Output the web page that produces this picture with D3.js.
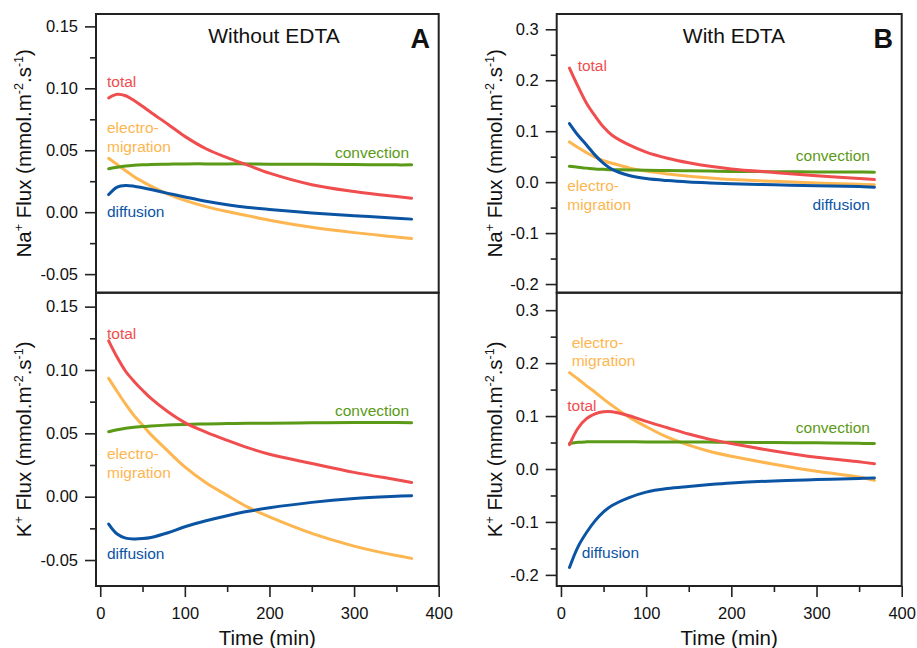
<!DOCTYPE html>
<html lang="en">
<head>
<meta charset="UTF-8">
<title>Na+ and K+ flux components</title>
<style>
  body { margin: 0; background: #fff; }
  svg { display: block; font-family: "Liberation Sans", Arial, sans-serif; }
  .tick text { font-size: 16.5px; fill: #111; }
  .tick line { stroke: #222; stroke-width: 1.6; }
</style>
</head>
<body>
<svg id="chart" width="917" height="648"></svg>
<script src="https://d3js.org/d3.v7.min.js"></script>
<script>
// time points (min)
const time = [10, 20, 30, 40, 50, 60, 80, 100, 125, 150, 175, 200, 250, 300, 350, 368];

// A (without EDTA), Na+
const naTotalA   = [0.0922, 0.0952, 0.0940, 0.0902, 0.0855, 0.0805, 0.0710, 0.0612, 0.0512, 0.0440, 0.0378, 0.0315, 0.0222, 0.0167, 0.0126, 0.0113];
const naElectroA = [0.0435, 0.0385, 0.0335, 0.0287, 0.0247, 0.0210, 0.0145, 0.0095, 0.0045, 0.0005, -0.0030, -0.0065, -0.0122, -0.0165, -0.0200, -0.0213];
const naConvA    = [0.0350, 0.0362, 0.0372, 0.0378, 0.0382, 0.0385, 0.0388, 0.0390, 0.0390, 0.0390, 0.0390, 0.0388, 0.0386, 0.0384, 0.0382, 0.0382];
const naDiffA    = [0.0142, 0.0203, 0.0216, 0.0210, 0.0197, 0.0183, 0.0152, 0.0123, 0.0088, 0.0060, 0.0038, 0.0022, -0.0006, -0.0028, -0.0048, -0.0056];

// A (without EDTA), K+
const kTotalA    = [0.1230, 0.1100, 0.0990, 0.0910, 0.0840, 0.0775, 0.0670, 0.0585, 0.0510, 0.0445, 0.0385, 0.0335, 0.0262, 0.0192, 0.0134, 0.0112];
const kElectroA  = [0.0934, 0.0830, 0.0730, 0.0640, 0.0565, 0.0490, 0.0360, 0.0235, 0.0110, 0.0010, -0.0085, -0.0160, -0.0290, -0.0390, -0.0465, -0.0487];
const kConvA     = [0.0513, 0.0528, 0.0540, 0.0548, 0.0553, 0.0558, 0.0565, 0.0570, 0.0574, 0.0577, 0.0579, 0.0580, 0.0583, 0.0586, 0.0586, 0.0584];
const kDiffA     = [-0.0216, -0.0295, -0.0327, -0.0334, -0.0331, -0.0322, -0.0285, -0.0237, -0.0190, -0.0150, -0.0115, -0.0088, -0.0045, -0.0015, 0.0003, 0.0008];

// B (with EDTA), Na+
const naTotalB   = [0.224, 0.188, 0.155, 0.130, 0.108, 0.092, 0.073, 0.059, 0.047, 0.038, 0.031, 0.026, 0.019, 0.0125, 0.0072, 0.005];
const naElectroB = [0.079, 0.068, 0.058, 0.049, 0.042, 0.037, 0.028, 0.0216, 0.016, 0.0118, 0.008, 0.005, 0.0015, -0.0015, -0.0042, -0.005];
const naConvB    = [0.031, 0.029, 0.0275, 0.026, 0.0252, 0.0245, 0.024, 0.0235, 0.0228, 0.0222, 0.0218, 0.021, 0.0205, 0.020, 0.0197, 0.0196];
const naDiffB    = [0.115, 0.092, 0.073, 0.053, 0.037, 0.025, 0.013, 0.007, 0.003, 0.0003, -0.0015, -0.003, -0.0052, -0.007, -0.0088, -0.0098];

// B (with EDTA), K+
const kTotalB    = [0.046, 0.077, 0.095, 0.104, 0.108, 0.108, 0.1005, 0.090, 0.078, 0.066, 0.056, 0.048, 0.034, 0.022, 0.0135, 0.010];
const kElectroB  = [0.182, 0.170, 0.157, 0.145, 0.132, 0.120, 0.098, 0.080, 0.060, 0.045, 0.033, 0.024, 0.009, -0.0044, -0.015, -0.0215];
const kConvB     = [0.048, 0.0505, 0.0513, 0.0515, 0.0515, 0.0515, 0.0513, 0.0512, 0.051, 0.051, 0.0508, 0.0506, 0.050, 0.0495, 0.0485, 0.048];
const kDiffB     = [-0.186, -0.147, -0.120, -0.098, -0.081, -0.069, -0.054, -0.0437, -0.037, -0.033, -0.0295, -0.0266, -0.0225, -0.020, -0.0178, -0.017];

// axis ticks
const xTicks = [0, 100, 200, 300, 400];
const xMinor = [50, 150, 250, 350];
const yTicksA = [-0.05, 0, 0.05, 0.10, 0.15];
const yMinorA = [-0.025, 0.025, 0.075, 0.125];
const yTicksB = [-0.2, -0.1, 0, 0.1, 0.2, 0.3];
const yMinorB = [-0.15, -0.05, 0.05, 0.15, 0.25];

const colors = { total: "#f04d4f", electro: "#fdb650", conv: "#5b9a16", diff: "#0b54a4" };

const svg = d3.select("#chart");

const panels = [
  { x0: 96, x1: 438.7, y0: 14, y1: 292.7, yDomain: [-0.065, 0.16], yTicks: yTicksA, yMinor: yMinorA, fmt: ".2f",
    ion: "Na", xAxis: false, titleX: 31,
    lines: { electro: naElectroA, conv: naConvA, diff: naDiffA, total: naTotalA },
    labels: [
      { k: "total", t: 8, v: 0.101, text: ["total"] },
      { k: "electro", t: 8, v: 0.0639, text: ["electro-", "migration"] },
      { k: "conv", t: 365, v: 0.0438, text: ["convection"], end: true },
      { k: "diff", t: 8, v: -0.0038, text: ["diffusion"] }
    ] },
  { x0: 96, x1: 438.7, y0: 292.7, y1: 586, yDomain: [-0.0705, 0.161], yTicks: yTicksA, yMinor: yMinorA, fmt: ".2f",
    ion: "K", xAxis: true, titleX: 31,
    lines: { electro: kElectroA, conv: kConvA, diff: kDiffA, total: kTotalA },
    labels: [
      { k: "total", t: 8, v: 0.1243, text: ["total"] },
      { k: "conv", t: 365, v: 0.0638, text: ["convection"], end: true },
      { k: "electro", t: 8, v: 0.0296, text: ["electro-", "migration"] },
      { k: "diff", t: 8, v: -0.0494, text: ["diffusion"] }
    ] },
  { x0: 556.7, x1: 901.7, y0: 14, y1: 292.7, yDomain: [-0.217, 0.33], yTicks: yTicksB, yMinor: yMinorB, fmt: ".1f",
    ion: "Na", xAxis: false, titleX: 501.7,
    lines: { electro: naElectroB, conv: naConvB, diff: naDiffB, total: naTotalB },
    labels: [
      { k: "total", t: 19.6, v: 0.219, text: ["total"] },
      { k: "conv", t: 362.7, v: 0.0412, text: ["convection"], end: true },
      { k: "electro", t: 7.4, v: -0.0176, text: ["electro-", "migration"] },
      { k: "diff", t: 362.7, v: -0.0549, text: ["diffusion"], end: true }
    ] },
  { x0: 556.7, x1: 901.7, y0: 292.7, y1: 586, yDomain: [-0.221, 0.333], yTicks: yTicksB, yMinor: yMinorB, fmt: ".1f",
    ion: "K", xAxis: true, titleX: 501.7,
    lines: { electro: kElectroB, conv: kConvB, diff: kDiffB, total: kTotalB },
    labels: [
      { k: "electro", t: 12.6, v: 0.2287, text: ["electro-", "migration"] },
      { k: "total", t: 7.4, v: 0.1089, text: ["total"] },
      { k: "conv", t: 362.7, v: 0.068, text: ["convection"], end: true },
      { k: "diff", t: 24.3, v: -0.168, text: ["diffusion"] }
    ] }
];

const headers = [
  { cx: 274, right: 430, title: "Without EDTA", letter: "A" },
  { cx: 734, right: 893, title: "With EDTA", letter: "B" }
];

panels.forEach(p => {
  const x = d3.scaleLinear().domain([-5, 400]).range([p.x0, p.x1]);
  const y = d3.scaleLinear().domain(p.yDomain).range([p.y1, p.y0]);
  const f = d3.format(p.fmt);
  const fmt = d => f(d).replace("−", "-");

  // y axis, major + minor ticks
  const ya = svg.append("g").attr("transform", `translate(${p.x0},0)`)
    .call(d3.axisLeft(y).tickValues(p.yTicks).tickFormat(fmt).tickSize(11).tickPadding(7));
  ya.select(".domain").remove();
  const ym = svg.append("g").attr("transform", `translate(${p.x0},0)`)
    .call(d3.axisLeft(y).tickValues(p.yMinor).tickFormat("").tickSize(6));
  ym.select(".domain").remove();
  ym.selectAll("text").remove();

  if (p.xAxis) {
    const xa = svg.append("g").attr("transform", `translate(0,${p.y1})`)
      .call(d3.axisBottom(x).tickValues(xTicks).tickFormat(d3.format("d")).tickSize(11).tickPadding(10));
    xa.select(".domain").remove();
    const xm = svg.append("g").attr("transform", `translate(0,${p.y1})`)
      .call(d3.axisBottom(x).tickValues(xMinor).tickFormat("").tickSize(6));
    xm.select(".domain").remove();
    xm.selectAll("text").remove();

    svg.append("text")
      .attr("x", (p.x0 + p.x1) / 2).attr("y", 645)
      .attr("text-anchor", "middle").attr("font-size", 20.5).attr("fill", "#111")
      .text("Time (min)");
  }

  // curves
  const line = d3.line().x((d, i) => x(time[i])).y(d => y(d)).curve(d3.curveCatmullRom.alpha(0.5));
  Object.entries(p.lines).forEach(([k, vals]) => {
    svg.append("path").datum(vals)
      .attr("d", line)
      .attr("fill", "none")
      .attr("stroke", colors[k])
      .attr("stroke-width", 3)
      .attr("stroke-linecap", "round");
  });

  // series labels
  p.labels.forEach(l => {
    const t = svg.append("text")
      .attr("x", x(l.t)).attr("y", y(l.v))
      .attr("font-size", 15.5)
      .attr("fill", colors[l.k])
      .attr("text-anchor", l.end ? "end" : "start");
    l.text.forEach((s, i) => {
      t.append("tspan").attr("x", x(l.t)).attr("dy", i === 0 ? 0 : 18.5).text(s);
    });
  });

  // frame
  svg.append("rect")
    .attr("x", p.x0).attr("y", p.y0)
    .attr("width", p.x1 - p.x0).attr("height", p.y1 - p.y0)
    .attr("fill", "none").attr("stroke", "#222").attr("stroke-width", 2);

  // y title with superscripts
  const yt = svg.append("text")
    .attr("transform", `translate(${p.titleX},${(p.y0 + p.y1) / 2}) rotate(-90)`)
    .attr("text-anchor", "middle").attr("font-size", 20.5).attr("fill", "#111");
  const parts = [
    [p.ion, false], ["+", true], [" Flux (mmol.m", false], ["-2", true],
    [".s", false], ["-1", true], [")", false]
  ];
  let up = false;
  parts.forEach(([s, isSup]) => {
    const sp = yt.append("tspan").text(s);
    if (isSup) { sp.attr("font-size", 12.5).attr("dy", -8); up = true; }
    else if (up) { sp.attr("dy", 8); up = false; }
  });
});

headers.forEach(h => {
  svg.append("text").attr("x", h.cx).attr("y", 43.3)
    .attr("text-anchor", "middle").attr("font-size", 21).attr("fill", "#111")
    .text(h.title);
  svg.append("text").attr("x", h.right).attr("y", 47.7)
    .attr("text-anchor", "end").attr("font-size", 27).attr("font-weight", "bold").attr("fill", "#111")
    .text(h.letter);
});
</script>
</body>
</html>
